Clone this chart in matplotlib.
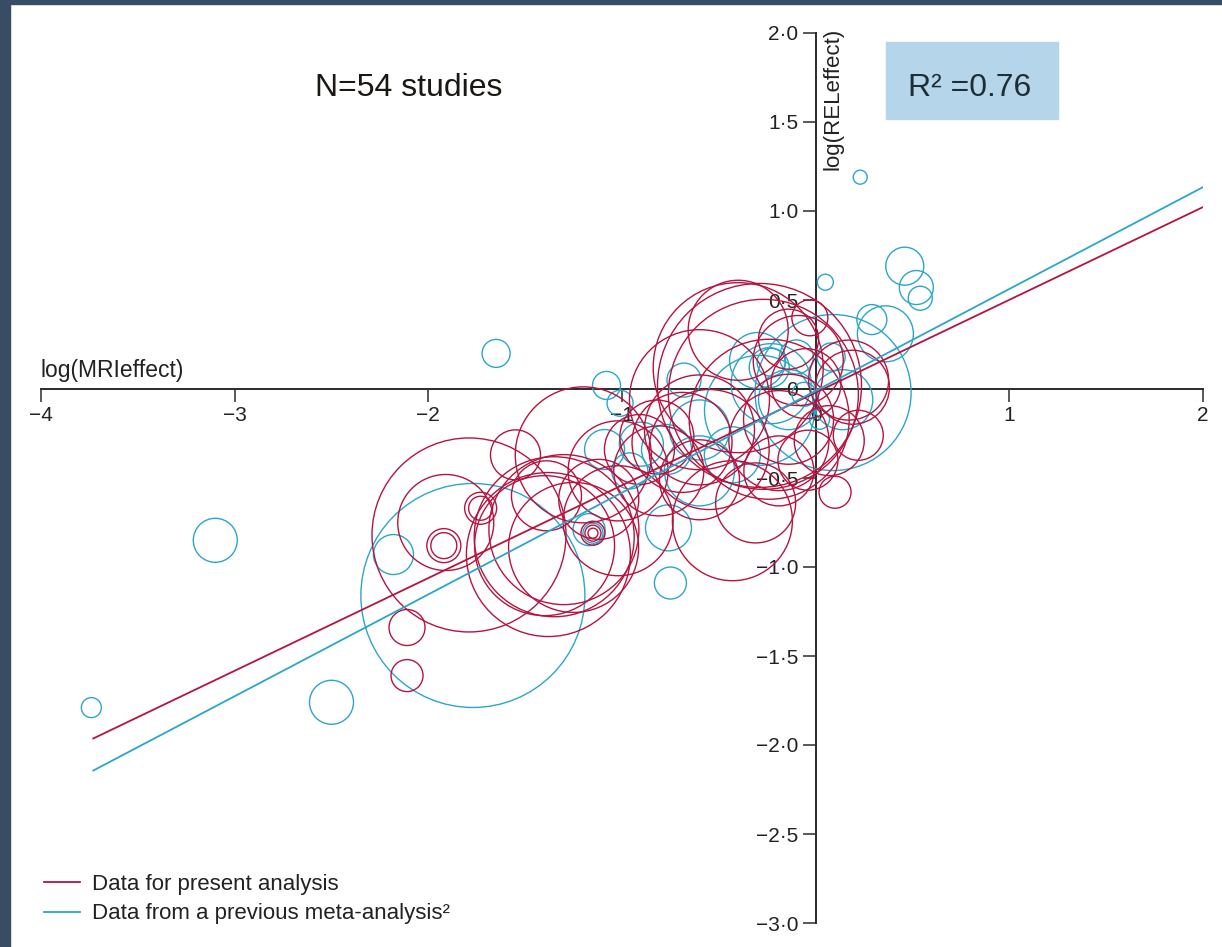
import matplotlib
matplotlib.use("Agg")
import matplotlib.pyplot as plt
from matplotlib.patches import Rectangle
import numpy as np

# study-level effects (log scale) and relative study weights
present_x = [-1.92, -1.92, -2.11, -2.11, -1.79, -1.91, -1.73, -1.73, -1.35, -1.40,
             -1.30, -1.38, -1.25, -1.15, -1.15, -1.15, -1.39, -1.55, -1.20, -0.29,
             -0.27, -0.24, -0.40, -0.82, -0.69, -0.55, -1.12, -0.43, -0.31, 0.10,
             0.19, 0.17, -0.05, -0.03, 0.22, -0.19, -0.14, -0.09, -0.81, -0.91,
             -0.60, 0.07, -0.04, -0.19, -1.02, -1.02, -0.60, -0.40, -0.14, -0.60]
present_y = [-0.88, -0.88, -1.34, -1.61, -0.82, -0.75, -0.67, -0.67, -0.83, -0.88,
             -0.79, -0.93, -0.89, -0.81, -0.81, -0.81, -0.60, -0.37, -0.37, 0.02,
             -0.03, -0.17, 0.12, -0.27, -0.30, -0.34, -0.62, -0.74, -0.64, -0.58,
             0.01, 0.05, 0.03, 0.40, -0.26, -0.29, -0.17, 0.16, -0.46, -0.34,
             -0.51, -0.29, -0.40, -0.46, -0.46, -0.74, -0.06, 0.33, 0.28, -0.23]
present_w = [1.7, 1.3, 1.8, 1.6, 9.7, 4.8, 1.6, 1.2, 8.0, 7.0,
             7.5, 8.2, 6.5, 1.2, 0.8, 0.5, 3.5, 2.5, 6.8, 10.2,
             9.5, 8.0, 8.5, 3.7, 5.0, 6.0, 4.0, 6.0, 4.0, 1.6,
             3.7, 4.0, 3.5, 1.8, 2.5, 5.0, 4.5, 4.5, 4.5, 3.5,
             4.0, 3.5, 3.0, 3.5, 5.0, 5.5, 7.0, 5.0, 3.0, 5.5]

previous_x = [-3.74, -3.10, -2.50, -2.18, -1.77, -1.65, -1.08, -1.01, -1.09, -1.15,
              -1.17, -0.76, -0.75, -0.68, -0.90, -0.96, -0.77, -0.43, -0.23, 0.08,
              -0.23, 0.09, -0.10, -0.24, 0.05, 0.23, 0.46, 0.52, 0.54, 0.29,
              0.36, -0.14, -0.29, -0.06, 0.02, -0.60, -0.60, -0.30, 0.14]
previous_y = [-1.79, -0.85, -1.76, -0.93, -1.16, 0.20, 0.02, -0.08, -0.34, -0.81,
              -0.79, -0.78, -1.09, 0.05, -0.31, -0.46, -0.34, -0.37, 0.15, 0.18,
              0.03, -0.02, 0.18, 0.12, 0.60, 1.19, 0.69, 0.57, 0.51, 0.39,
              0.31, -0.06, -0.12, -0.03, -0.17, -0.46, -0.23, 0.16, -0.06]
previous_w = [1.0, 2.2, 2.2, 2.0, 11.2, 1.4, 1.4, 1.3, 2.0, 1.0,
              1.6, 2.3, 1.6, 1.7, 2.2, 1.8, 2.5, 2.8, 1.4, 1.4,
              4.0, 7.8, 1.7, 2.0, 0.8, 0.7, 1.9, 1.7, 1.2, 1.5,
              2.8, 3.0, 5.5, 1.2, 1.0, 3.5, 3.0, 2.8, 3.0]

# meta-regression fits: (slope, intercept)
present_fit = (0.521, -0.02)
previous_fit = (0.572, -0.01)
fit_range = (-3.73, 2.0)

x_ticks = [-4, -3, -2, -1, 0, 1, 2]
y_ticks = [-3.0, -2.5, -2.0, -1.5, -1.0, -0.5, 0.0, 0.5, 1.0, 1.5, 2.0]

RED = "#b5143f"
BLUE = "#2ba6ca"
AXIS = "#2b2b2b"
narrow = ["Liberation Sans Narrow", "Liberation Sans", "DejaVu Sans"]

W, H = 1222, 947
fig = plt.figure(figsize=(W / 100, H / 100), dpi=100)
fig.patch.set_facecolor("white")

# slate frame on the left and top edges
fig.patches.append(Rectangle((0, 0), 10 / W, 1, transform=fig.transFigure,
                             color="#384d63", zorder=0))
fig.patches.append(Rectangle((0, 1 - 4 / H), 1, 4 / H, transform=fig.transFigure,
                             color="#384d63", zorder=0))

ax = fig.add_axes([41 / W, 1 - 923 / H, (1203 - 41) / W, 890 / H])
ax.set_xlim(-4, 2)
ax.set_ylim(-3, 2)
ax.patch.set_alpha(0)

def marker_area(w):
    # weight -> scatter area (pt^2); diameter grows linearly with weight
    return (14.4 * np.asarray(w)) ** 2

ax.scatter(previous_x, previous_y, s=marker_area(previous_w), facecolors="none",
           edgecolors=BLUE, linewidths=1.0, clip_on=False, zorder=2)
ax.scatter(present_x, present_y, s=marker_area(present_w), facecolors="none",
           edgecolors=RED, linewidths=1.0, clip_on=False, zorder=3)

xs = np.array(fit_range)
ax.plot(xs, present_fit[0] * xs + present_fit[1], color=RED, lw=1.3, zorder=4,
        label="Data for present analysis")
ax.plot(xs, previous_fit[0] * xs + previous_fit[1], color=BLUE, lw=1.3, zorder=4,
        label="Data from a previous meta-analysis²")

# cross-shaped axes through the origin
for side in ("top", "right"):
    ax.spines[side].set_visible(False)
ax.spines["left"].set_position(("data", 0))
ax.spines["bottom"].set_position(("data", 0))
for side in ("left", "bottom"):
    ax.spines[side].set_color(AXIS)
    ax.spines[side].set_linewidth(1.4)
    ax.spines[side].set_zorder(1)

def fmt(v):
    if v == 0:
        return "0"
    s = f"{abs(v):.1f}".replace(".", "·")
    return ("−" if v < 0 else "") + s

ax.set_xticks(x_ticks)
ax.set_xticklabels([("−" if t < 0 else "") + str(abs(t)) for t in x_ticks])
ax.set_yticks(y_ticks)
ax.set_yticklabels([fmt(t) for t in y_ticks])
ax.tick_params(axis="both", direction="out", length=9.5, width=1.1, color=AXIS,
               labelsize=15, labelcolor="#222222", pad=3)
for lab in ax.get_xticklabels() + ax.get_yticklabels():
    lab.set_family(narrow)

ax.text(-4.0, 0.04, "log(MRIeffect)", ha="left", va="bottom", fontsize=16.5,
        family=narrow, color="#222222")
ax.text(0.035, 2.03, "log(RELeffect)", ha="left", va="top", rotation=90,
        fontsize=16, family=narrow, color="#222222")

fig.text(409 / W, 1 - 88 / H, "N=54 studies", ha="center", va="center",
         fontsize=23, family=["Liberation Sans", "DejaVu Sans"], color="#1b1712")

fig.patches.append(Rectangle((886 / W, 1 - 119 / H), 172 / W, 77 / H,
                             transform=fig.transFigure, color="#b5d6ea", zorder=1))
fig.text(970 / W, 1 - 88 / H, "R² =0.76", ha="center", va="center",
         fontsize=23, family=["Liberation Sans", "DejaVu Sans"], color="#1f2d35")

leg = ax.legend(loc="center left", bbox_to_anchor=(44 / W, 1 - 899 / H),
                bbox_transform=fig.transFigure, frameon=False, borderpad=0,
                borderaxespad=0, handlelength=1.6, handletextpad=0.55,
                labelspacing=0.4, prop={"family": narrow, "size": 16})
for t in leg.get_texts():
    t.set_color("#222222")

fig.savefig("out.png", dpi=100, facecolor=fig.get_facecolor())
